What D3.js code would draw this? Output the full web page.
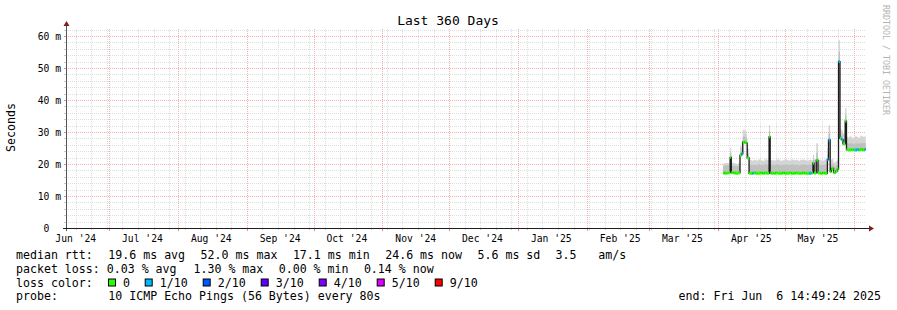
<!DOCTYPE html>
<html>
<head>
<meta charset="utf-8">
<script src="https://cdn.jsdelivr.net/npm/d3@7"></script>
<style>
body { margin: 0; background: #fff; }
text { font-family: "DejaVu Sans Mono", monospace; white-space: pre; }
</style>
</head>
<body>
<svg id="chart" width="897" height="310"></svg>
<script>
// time range of the graph
var startTime = '2024-06-11 14:49:24';
var endTime = '2025-06-06 14:49:24';
var dataEnd = '2025-06-06 12';

var yTicks = [0, 10, 20, 30, 40, 50, 60];   // ms

// samples (ms)
var sampleTimes = [
  '2025-04-03 06', '2025-04-04 00', '2025-04-05 00', '2025-04-06 00', '2025-04-06 12',
  '2025-04-07 00', '2025-04-08 00', '2025-04-09 00', '2025-04-10 00', '2025-04-10 22',
  '2025-04-11 16', '2025-04-12 04', '2025-04-13 00', '2025-04-13 20', '2025-04-14 04',
  '2025-04-15 00', '2025-04-16 08', '2025-04-17 00', '2025-04-18 00', '2025-04-19 00',
  '2025-04-20 00', '2025-04-21 00', '2025-04-22 00', '2025-04-23 00', '2025-04-24 00',
  '2025-04-24 12', '2025-04-25 00', '2025-04-26 00', '2025-04-27 00', '2025-04-28 00',
  '2025-04-29 00', '2025-04-30 00', '2025-05-01 00', '2025-05-02 00', '2025-05-03 00',
  '2025-05-04 00', '2025-05-05 00', '2025-05-06 00', '2025-05-07 00', '2025-05-08 00',
  '2025-05-09 00', '2025-05-10 00', '2025-05-11 00', '2025-05-12 00', '2025-05-13 00',
  '2025-05-13 18', '2025-05-14 06', '2025-05-15 06', '2025-05-16 00', '2025-05-17 00',
  '2025-05-18 00', '2025-05-19 00', '2025-05-20 06', '2025-05-20 18', '2025-05-21 12',
  '2025-05-22 00', '2025-05-23 00', '2025-05-24 00', '2025-05-24 18', '2025-05-25 06',
  '2025-05-25 22', '2025-05-26 12', '2025-05-27 06', '2025-05-28 06', '2025-05-28 20',
  '2025-05-29 12', '2025-05-30 00', '2025-05-31 00', '2025-06-01 00', '2025-06-01 16',
  '2025-06-02 12', '2025-06-03 08', '2025-06-04 00', '2025-06-05 00', '2025-06-06 00'
];
var medianMs = [
  17.2, 17.1, 17.2, 17.3, 22.1,
  17.3, 17.2, 17.1, 17.2, 22.8,
  23.2, 26.8, 26.7, 26.4, 21.9,
  17.1, 17.1, 17.2, 17.1, 17.1,
  17.2, 17.1, 17.2, 17.1, 28.5,
  17.2, 17.1, 17.1, 17.2, 17.1,
  17.1, 17.2, 17.1, 17.1, 17.2,
  17.1, 17.1, 17.2, 17.1, 17.1,
  17.2, 17.1, 17.1, 17.1, 17.2,
  20.3, 17.2, 21.2, 17.2, 17.1,
  17.2, 17.1, 21.4, 27.5, 17.6,
  18.6, 17.3, 17.8, 18.4, 52.0,
  28.0, 27.6, 26.3, 33.4, 24.5,
  24.4, 24.4, 24.5, 24.4, 24.4,
  24.5, 24.4, 24.6, 24.4, 24.6
];
var smokeMidMs = [
  19.4, 19.5, 19.6, 19.9, 23.6,
  19.6, 19.4, 19.3, 19.5, 24.0,
  25.0, 28.6, 28.4, 27.8, 23.2,
  19.8, 19.7, 19.8, 19.6, 19.9,
  19.7, 19.8, 20.0, 19.7, 30.2,
  19.9, 19.8, 19.7, 19.9, 19.8,
  19.6, 19.8, 19.9, 19.7, 19.8,
  19.9, 19.7, 19.8, 19.6, 19.8,
  19.9, 19.7, 19.8, 19.8, 19.7,
  21.5, 19.8, 23.5, 19.9, 19.8,
  19.7, 19.9, 23.0, 29.5, 19.5,
  20.0, 19.3, 19.6, 19.8, 55.0,
  29.5, 29.0, 28.0, 35.5, 26.5,
  26.3, 26.5, 26.4, 26.2, 26.5,
  26.4, 26.3, 26.6, 26.5, 26.6
];
var smokeHiMs = [
  20.1, 20.3, 20.2, 21.0, 25.0,
  20.4, 20.2, 20.0, 20.3, 25.5,
  27.0, 30.6, 30.4, 29.2, 24.8,
  21.2, 21.0, 21.3, 21.1, 21.4,
  21.2, 21.0, 21.5, 21.3, 32.0,
  21.4, 21.2, 21.1, 21.3, 21.4,
  21.0, 21.2, 21.5, 21.2, 21.1,
  21.4, 21.2, 21.3, 21.0, 21.3,
  21.4, 21.2, 21.1, 21.3, 21.2,
  23.0, 21.4, 26.5, 21.3, 21.2,
  21.1, 21.4, 25.0, 32.0, 21.3,
  21.5, 20.5, 21.0, 21.5, 58.7,
  31.0, 30.5, 29.5, 37.5, 28.5,
  28.2, 28.6, 28.3, 28.0, 28.7,
  28.4, 28.1, 28.8, 28.5, 28.6
];
var lossCount = [
  0, 0, 0, 0, 0,
  0, 0, 0, 0, 0,
  1, 0, 0, 0, 0,
  0, 1, 0, 0, 0,
  0, 0, 0, 0, 0,
  0, 0, 0, 0, 0,
  0, 0, 0, 0, 0,
  0, 0, 0, 0, 0,
  0, 0, 0, 1, 0,
  0, 0, 0, 0, 0,
  0, 0, 1, 1, 0,
  0, 0, 0, 0, 1,
  0, 1, 0, 0, 0,
  0, 0, 0, 0, 1,
  1, 0, 0, 0, 1
];

var lossLabels = ['0', '1/10', '2/10', '3/10', '4/10', '5/10', '9/10'];
var lossColors = ['#26ff00', '#00b8ff', '#0059ff', '#5e00ff', '#7e00ff', '#dd00ff', '#ff0000'];

var legendLines = [
  'median rtt:  19.6 ms avg  52.0 ms max  17.1 ms min  24.6 ms now  5.6 ms sd  3.5   am/s',
  'packet loss: 0.03 % avg  1.30 % max  0.00 % min  0.14 % now'
];
var probeLabel = 'probe:';
var probeText = '10 ICMP Echo Pings (56 Bytes) every 80s';
var endText = 'end: Fri Jun  6 14:49:24 2025';
var title = 'Last 360 Days';

var svg = d3.select('#chart');
var parseFull = d3.timeParse('%Y-%m-%d %H:%M:%S');
var parseHour = d3.timeParse('%Y-%m-%d %H');

var plotL = 66, plotR = 866, plotT = 28, plotB = 228;
var x = d3.scaleTime().domain([parseFull(startTime), parseFull(endTime)]).range([plotL, plotR]);
var y = d3.scaleLinear().domain([0, 62.5]).range([plotB, plotT]);

// grid
var minorY = d3.range(0, 63, 2).filter(function(v) { return v % 10 != 0; });
var weeks = d3.timeSunday.range(x.domain()[0], x.domain()[1]);
var months = d3.timeMonth.range(x.domain()[0], x.domain()[1]);
var minorCol = '#dedede', majorCol = '#f2b4b4';

var grid = svg.append('g').attr('fill', 'none').attr('stroke-dasharray', '1,1');
grid.selectAll('.hmin').data(minorY).enter().append('line')
  .attr('x1', plotL).attr('x2', plotR)
  .attr('y1', function(d) { return Math.round(y(d)) + 0.5; })
  .attr('y2', function(d) { return Math.round(y(d)) + 0.5; })
  .attr('stroke', minorCol);
grid.selectAll('.vmin').data(weeks).enter().append('line')
  .attr('x1', function(d) { return Math.round(x(d)) + 0.5; })
  .attr('x2', function(d) { return Math.round(x(d)) + 0.5; })
  .attr('y1', plotB).attr('y2', plotT)
  .attr('stroke', minorCol);
grid.selectAll('.hmaj').data(yTicks.slice(1)).enter().append('line')
  .attr('x1', plotL).attr('x2', plotR)
  .attr('y1', function(d) { return Math.round(y(d)) + 0.5; })
  .attr('y2', function(d) { return Math.round(y(d)) + 0.5; })
  .attr('stroke', majorCol);
grid.selectAll('.vmaj').data(months).enter().append('line')
  .attr('x1', function(d) { return Math.round(x(d)) + 0.5; })
  .attr('x2', function(d) { return Math.round(x(d)) + 0.5; })
  .attr('y1', plotB).attr('y2', plotT)
  .attr('stroke', majorCol);

// samples plus a closing point so the last step has width
var pts = sampleTimes.map(function(t, i) {
  return { t: parseHour(t), med: medianMs[i], mid: smokeMidMs[i], hi: smokeHiMs[i], loss: lossCount[i] };
});
var last = pts[pts.length - 1];
pts.push({ t: parseHour(dataEnd), med: last.med, mid: last.mid, hi: last.hi, loss: last.loss });

// smoke
svg.append('path').datum(pts)
  .attr('fill', '#d4d4d4')
  .attr('d', d3.area().curve(d3.curveStepAfter)
    .x(function(d) { return x(d.t); })
    .y0(function(d) { return y(d.med); })
    .y1(function(d) { return y(d.hi); }));
svg.append('path').datum(pts)
  .attr('fill', '#c0c0c0')
  .attr('d', d3.area().curve(d3.curveStepAfter)
    .x(function(d) { return x(d.t); })
    .y0(function(d) { return y(d.med); })
    .y1(function(d) { return y(d.mid); }));

// median
svg.append('path').datum(pts)
  .attr('fill', 'none').attr('stroke', '#1c1c1c').attr('stroke-width', 1.3)
  .attr('d', d3.line().curve(d3.curveStepAfter)
    .x(function(d) { return x(d.t); })
    .y(function(d) { return y(d.med); }));

svg.append('g').selectAll('rect').data(pts.slice(0, -1)).enter().append('rect')
  .attr('x', function(d) { return x(d.t); })
  .attr('width', function(d, i) { return x(pts[i + 1].t) - x(d.t); })
  .attr('y', function(d) { return y(d.med) - 1.5; })
  .attr('height', 3)
  .attr('fill', function(d) { return lossColors[d.loss]; });

// axes
var axisCol = '#1f1f1f', arrowCol = '#7f1f1f';
var ticks = svg.append('g');
ticks.selectAll('.tw').data(weeks).enter().append('line')
  .attr('x1', function(d) { return Math.round(x(d)) + 0.5; })
  .attr('x2', function(d) { return Math.round(x(d)) + 0.5; })
  .attr('y1', plotB).attr('y2', plotB + 2).attr('stroke', '#c8c8c8');
ticks.selectAll('.tm').data(months).enter().append('line')
  .attr('x1', function(d) { return Math.round(x(d)) + 0.5; })
  .attr('x2', function(d) { return Math.round(x(d)) + 0.5; })
  .attr('y1', plotB).attr('y2', plotB + 3).attr('stroke', '#e89090');
ticks.selectAll('.ty').data(d3.range(0, 63, 2)).enter().append('line')
  .attr('x1', plotL - 2).attr('x2', plotL)
  .attr('y1', function(d) { return Math.round(y(d)) + 0.5; })
  .attr('y2', function(d) { return Math.round(y(d)) + 0.5; })
  .attr('stroke', function(d) { return d % 10 == 0 ? '#e89090' : '#c8c8c8'; });

svg.append('line').attr('x1', plotL + 0.5).attr('x2', plotL + 0.5)
  .attr('y1', plotB + 3).attr('y2', plotT - 3).attr('stroke', '#555');
svg.append('line').attr('x1', plotL - 3).attr('x2', plotR + 3)
  .attr('y1', plotB + 0.5).attr('y2', plotB + 0.5).attr('stroke', axisCol);
svg.append('path').attr('fill', arrowCol)
  .attr('d', 'M' + (plotL - 2.5) + ',' + (plotT - 2) + 'L' + (plotL + 3.5) + ',' + (plotT - 2) + 'L' + (plotL + 0.5) + ',' + (plotT - 7) + 'Z');
svg.append('path').attr('fill', arrowCol)
  .attr('d', 'M' + (plotR + 3) + ',' + (plotB - 2.5) + 'L' + (plotR + 3) + ',' + (plotB + 3.5) + 'L' + (plotR + 8) + ',' + (plotB + 0.5) + 'Z');

// y labels
var yAxis = svg.append('g').attr('transform', 'translate(' + (plotL - 5) + ',0)')
  .call(d3.axisLeft(y).tickValues(yTicks).tickSize(0)
    .tickFormat(function(d) { return d == 0 ? '0  ' : d + ' m'; }));
yAxis.select('.domain').remove();
yAxis.selectAll('text').attr('x', 0).attr('dy', '0.36em')
  .style('font-family', '"DejaVu Sans Mono", monospace').style('font-size', '9.7px').attr('fill', '#000');

// month labels at mid-month
var monthMids = d3.timeMonth.range(d3.timeMonth.floor(x.domain()[0]), x.domain()[1])
  .map(function(m) { return d3.timeDay.offset(m, 15); })
  .filter(function(m) { return m >= x.domain()[0] && m <= x.domain()[1]; });
var fmtMonth = d3.timeFormat("%b '%y");
svg.append('g').selectAll('text').data(monthMids).enter().append('text')
  .attr('x', function(d) { return x(d); })
  .attr('y', 241.5)
  .attr('text-anchor', 'middle')
  .style('font-size', '9.7px')
  .text(function(d) { return fmtMonth(d); });

// titles
svg.append('text').attr('x', 448).attr('y', 24.5).attr('text-anchor', 'middle')
  .style('font-size', '13px').text(title);
svg.append('text').attr('transform', 'translate(15,127.5) rotate(-90)')
  .attr('text-anchor', 'middle').style('font-size', '11.6px').text('Seconds');
svg.append('text').attr('transform', 'translate(883,5) rotate(90)')
  .attr('fill', '#b4b4b4').style('font-size', '8.3px').text('RRDTOOL / TOBI OETIKER');

// legend
var cell = 7.1, lx = 16, rows = [258.5, 272.5, 286.5, 300];
legendLines.forEach(function(line, r) {
  var re = /\S+(?: \S+)*/g, m;
  while ((m = re.exec(line)) !== null) {
    svg.append('text').attr('x', lx + m.index * cell).attr('y', rows[r])
      .style('font-size', '11.6px').text(m[0]);
  }
});
svg.append('text').attr('x', lx).attr('y', rows[2]).style('font-size', '11.6px').text('loss color:');
var cx = lx + 13 * cell - 0.3;
lossLabels.forEach(function(lab, i) {
  svg.append('rect').attr('x', cx + 0.5).attr('y', rows[2] - 7.5).attr('width', 7).attr('height', 7)
    .attr('fill', lossColors[i]).attr('stroke', '#000').attr('stroke-width', 1);
  svg.append('text').attr('x', cx + 15).attr('y', rows[2]).style('font-size', '11.6px').text(lab);
  cx = cx + 15 + lab.length * cell + 14.6;
});
svg.append('text').attr('x', lx).attr('y', rows[3]).style('font-size', '11.6px').text(probeLabel);
svg.append('text').attr('x', lx + 13 * cell).attr('y', rows[3]).style('font-size', '11.6px').text(probeText);
svg.append('text').attr('x', 881).attr('y', rows[3]).attr('text-anchor', 'end')
  .style('font-size', '11.6px').text(endText);
</script>
</body>
</html>
